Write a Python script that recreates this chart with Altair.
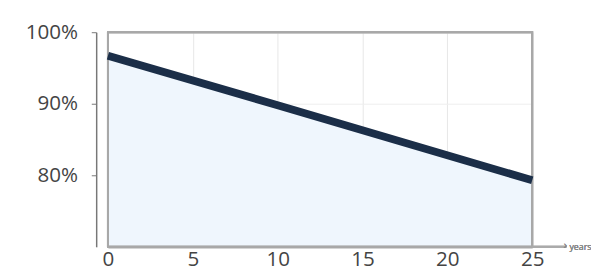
import altair as alt
import pandas as pd

years = [0, 10, 25]
efficiency = [96.7, 89.8, 79.3]
x_ticks = [0, 5, 10, 15, 20, 25]
y_ticks = [80, 90, 100]
x_unit = "years"

df = pd.DataFrame({"year": years, "eff": efficiency, "base": [70] * len(years)})

W, H = 433, 219

x_enc = alt.X("year:Q", scale=alt.Scale(domain=[0, 25], nice=False),
              axis=alt.Axis(values=x_ticks, title=None, ticks=False, labelPadding=2,
                            labelFontSize=21, labelColor="#444", labelFont="Open Sans",
                            domainColor="#aaa", domainWidth=2.5,
                            grid=True, gridColor="#e6e6e6", labelFlush=False))
y_enc = alt.Y("eff:Q", scale=alt.Scale(domain=[70, 100], nice=False, zero=False),
              axis=alt.Axis(values=y_ticks, title=None, offset=12, tickSize=5,
                            labelPadding=14, labelFontSize=21, labelColor="#444",
                            labelFont="Open Sans", labelExpr="datum.value + '%'",
                            domainColor="#777", tickColor="#777", domainWidth=1.5,
                            grid=True, gridColor="#eeeeee", labelFlush=False))

area = alt.Chart(df).mark_area(color="#eff6fd", opacity=1).encode(
    x=x_enc, y=y_enc, y2="base:Q")
frame = alt.Chart(df).mark_rect(fill=None, fillOpacity=0, stroke="#a8a8a8",
                                strokeWidth=2).encode(
    x=alt.value(0), x2=alt.value(W), y=alt.value(0), y2=alt.value(H))
line = alt.Chart(df).mark_line(color="#1b2e48", strokeWidth=8, strokeCap="butt").encode(
    x="year:Q", y="eff:Q")
ext = alt.Chart(df).mark_rule(color="#aaa", strokeWidth=2).encode(
    x=alt.value(W), x2=alt.value(W + 35), y=alt.value(H))
arrow = alt.Chart(df).mark_text(text="›", color="#888", fontSize=11, align="left",
                                 baseline="middle").encode(
    x=alt.value(W + 32), y=alt.value(H - 1))
unit = alt.Chart(df).mark_text(text=x_unit, color="#888", fontSize=9, align="left",
                                baseline="middle", font="Open Sans").encode(
    x=alt.value(W + 38), y=alt.value(H))

chart = alt.layer(area, frame, line, ext, arrow, unit).properties(
    width=W, height=H,
    autosize=alt.AutoSizeParams(type="none"),
    padding={"left": 102, "top": 22, "right": 60, "bottom": 24},
).configure_view(stroke=None).configure(background="white")

chart.save("out.html", embed_options={"renderer": "svg", "actions": False})
